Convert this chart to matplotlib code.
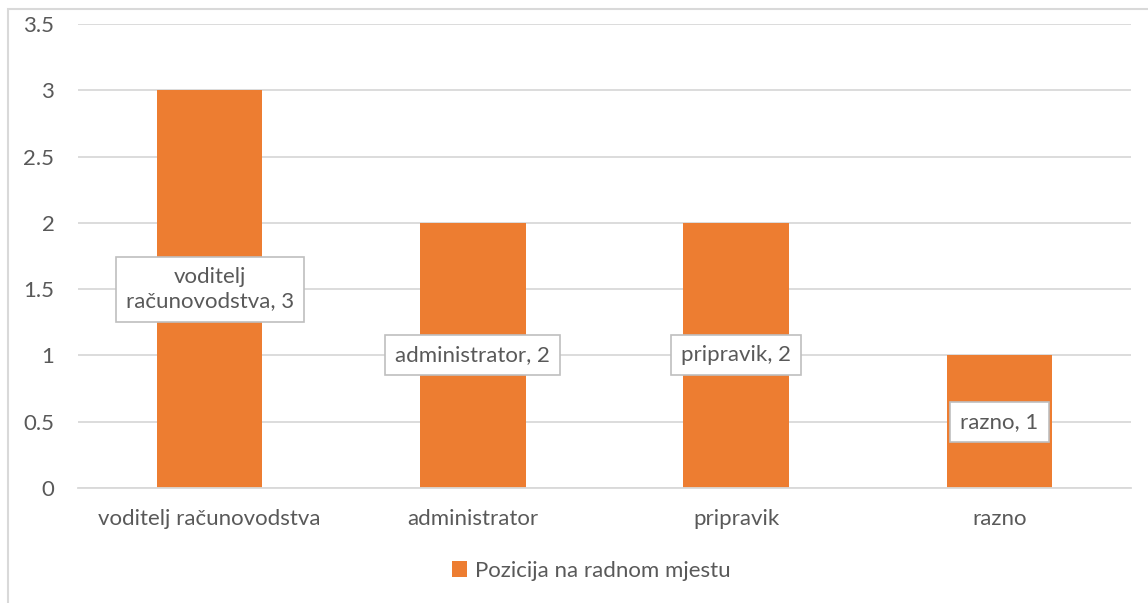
import matplotlib.pyplot as plt
from matplotlib.patches import Rectangle

categories = ["voditelj računovodstva", "administrator", "pripravik", "razno"]
values = [3, 2, 2, 1]
point_labels = ["voditelj\nračunovodstva, 3", "administrator, 2", "pripravik, 2", "razno, 1"]
yticks = [0, 0.5, 1, 1.5, 2, 2.5, 3, 3.5]
series_name = "Pozicija na radnom mjestu"

BAR_COLOR = "#ED7D31"
TEXT_COLOR = "#595959"
GRID_COLOR = "#D9D9D9"
FS = 16

plt.rcParams["font.family"] = ["Lato", "DejaVu Sans"]

fig = plt.figure(figsize=(11.48, 6.03), dpi=100)
ax = fig.add_axes([78 / 1148, 1 - 488 / 603, (1131 - 78) / 1148, (488 - 24) / 603])

x = range(len(categories))
ax.bar(x, values, width=0.4, color=BAR_COLOR, label=series_name, zorder=2)

for i, (v, lab) in enumerate(zip(values, point_labels)):
    ax.text(i, v / 2, lab, ha="center", va="center", fontsize=FS, color=TEXT_COLOR,
            linespacing=1.3, zorder=3,
            bbox=dict(boxstyle="square,pad=0.45", facecolor="white", edgecolor="#BFBFBF", linewidth=1.2))

ax.set_xlim(-0.5, len(categories) - 0.5)
ax.set_ylim(0, 3.5)
ax.set_yticks(yticks)
ax.set_yticklabels([f"{t:g}" for t in yticks])
ax.set_xticks(list(x))
ax.set_xticklabels(categories)
ax.tick_params(axis="both", length=0, labelsize=FS, colors=TEXT_COLOR)
ax.tick_params(axis="y", pad=17)
ax.tick_params(axis="x", pad=15)
ax.grid(axis="y", color=GRID_COLOR, linewidth=1.3, zorder=0)
ax.set_axisbelow(True)
for side in ["top", "right", "left"]:
    ax.spines[side].set_visible(False)
ax.spines["bottom"].set_color(GRID_COLOR)
ax.spines["bottom"].set_linewidth(1.3)

leg = fig.legend(loc="center", bbox_to_anchor=(591 / 1148, 1 - 571 / 603), frameon=False,
                 fontsize=FS, handlelength=0.7, handleheight=0.7, handletextpad=0.35)
for t in leg.get_texts():
    t.set_color(TEXT_COLOR)

# outer chart border (only top and left visible in the crop)
fig.add_artist(Rectangle((8 / 1148, -0.05), 1.1, 1 - 9 / 603 + 0.05, transform=fig.transFigure,
                         fill=False, edgecolor="#D9D9D9", linewidth=1.5))

fig.savefig("out.png", dpi=100)
